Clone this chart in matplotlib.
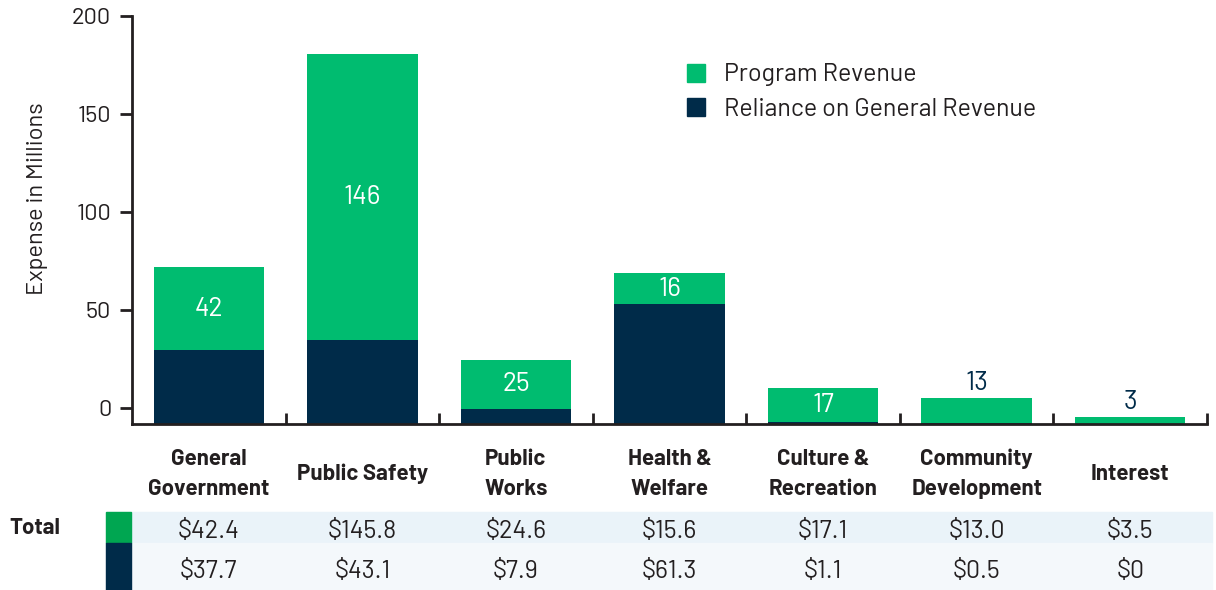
import matplotlib
matplotlib.use("Agg")
import matplotlib.pyplot as plt
from matplotlib.patches import Patch, Rectangle
import numpy as np

plt.rcParams['font.family'] = ['Barlow', 'DejaVu Sans']

categories = ["General\nGovernment", "Public Safety", "Public\nWorks", "Health &\nWelfare",
              "Culture &\nRecreation", "Community\nDevelopment", "Interest"]
program_revenue = [42.4, 145.8, 24.6, 15.6, 17.1, 13.0, 3.5]
general_reliance = [37.7, 43.1, 7.9, 61.3, 1.1, 0.5, 0.0]
bar_labels = ["42", "146", "25", "16", "17", "13", "3"]
program_text = ["$42.4", "$145.8", "$24.6", "$15.6", "$17.1", "$13.0", "$3.5"]
reliance_text = ["$37.7", "$43.1", "$7.9", "$61.3", "$1.1", "$0.5", "$0"]

GREEN = "#00bc70"
NAVY = "#002b49"
AXIS = "#231f20"
base = -8.2

W, H = 1216, 590
fig = plt.figure(figsize=(W / 100, H / 100), dpi=100)

def fx(px):
    return px / W

def fy(py):
    return 1 - py / H

AX_L, AX_R, AX_T, AX_B = 132, 1207, 16, 424
ax = fig.add_axes([fx(AX_L), fy(AX_B), fx(AX_R) - fx(AX_L), fy(AX_T) - fy(AX_B)])

x = np.arange(len(categories))
ax.bar(x, general_reliance, width=0.72, bottom=base, color=NAVY)
ax.bar(x, program_revenue, width=0.72, bottom=base + np.array(general_reliance), color=GREEN)

for i in range(len(x)):
    lo = base + general_reliance[i]
    hi = lo + program_revenue[i]
    if program_revenue[i] > 14:
        ax.text(x[i], (lo + hi) / 2, bar_labels[i], ha="center", va="center",
                color="white", fontsize=19)
    else:
        ax.text(x[i], hi + 1.5, bar_labels[i], ha="center", va="bottom",
                color=NAVY, fontsize=19)

ax.set_xlim(-0.5, len(x) - 0.5)
ax.set_ylim(base, 200)
ax.set_yticks([0, 50, 100, 150, 200])
ax.tick_params(axis="y", direction="out", length=9, width=2, color=AXIS,
               labelsize=17, labelcolor=AXIS, pad=6)
ax.set_xticks(np.arange(len(x)) + 0.5)
ax.set_xticklabels([])
ax.tick_params(axis="x", direction="in", length=8, width=2, color=AXIS)
for s in ["top", "right"]:
    ax.spines[s].set_visible(False)
for s in ["left", "bottom"]:
    ax.spines[s].set_linewidth(2)
    ax.spines[s].set_color(AXIS)
ax.spines["left"].set_bounds(base, 200)
ax.set_ylabel("Expense in Millions", fontsize=17, color=AXIS)
ax.yaxis.set_label_coords((48 - AX_L) / (AX_R - AX_L), 1 - (199 - AX_T) / (AX_B - AX_T))

ax.legend(handles=[Patch(color=GREEN, label="Program Revenue"),
                   Patch(color=NAVY, label="Reliance on General Revenue")],
          loc="upper left",
          bbox_to_anchor=((664 - AX_L) / (AX_R - AX_L), 1 - (41 - AX_T) / (AX_B - AX_T)),
          frameon=False, fontsize=18, handlelength=0.75, handleheight=0.75,
          handletextpad=0.75, labelspacing=0.45, labelcolor=AXIS)

# category labels under the axis
centers_px = AX_L + (x + 0.5) * (AX_R - AX_L) / len(x)
for cx, cat in zip(centers_px, categories):
    fig.text(fx(cx), fy(474), cat, ha="center", va="center", fontsize=16,
             fontweight="bold", color=AXIS, linespacing=1.6)

# table rows
fig.patches.append(Rectangle((fx(106), fy(543)), fx(1212) - fx(106), fy(512) - fy(543),
                             transform=fig.transFigure, color="#eaf3f9", zorder=0))
fig.patches.append(Rectangle((fx(106), fy(590)), fx(1212) - fx(106), fy(543) - fy(590),
                             transform=fig.transFigure, color="#f4f8fb", zorder=0))
fig.patches.append(Rectangle((fx(106), fy(543)), fx(131) - fx(106), fy(512) - fy(543),
                             transform=fig.transFigure, color="#00a651", zorder=1))
fig.patches.append(Rectangle((fx(106), fy(590)), fx(131) - fx(106), fy(543) - fy(590),
                             transform=fig.transFigure, color=NAVY, zorder=1))
fig.text(fx(35), fy(528), "Total", ha="center", va="center", fontsize=16,
         fontweight="bold", color=AXIS)
for cx, a, b in zip(centers_px, program_text, reliance_text):
    fig.text(fx(cx), fy(531), a, ha="center", va="center", fontsize=18, color=AXIS)
    fig.text(fx(cx), fy(572), b, ha="center", va="center", fontsize=18, color=AXIS)

fig.savefig("out.png", dpi=100)
